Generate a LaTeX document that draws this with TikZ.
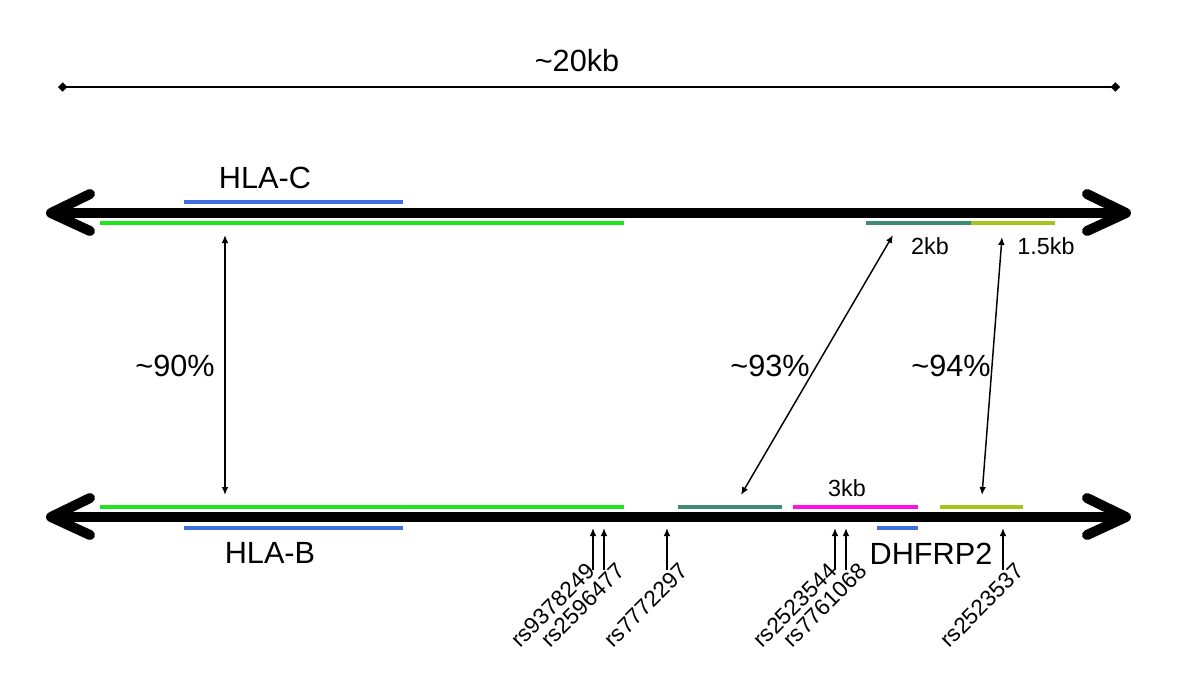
\documentclass[tikz,border=0pt]{standalone}
\usepackage{fontspec}
\setmainfont{Liberation Sans}
\usetikzlibrary{arrows.meta}

\definecolor{hlagreen}{HTML}{1EE61E}
\definecolor{geneblue}{HTML}{3D6FE3}
\definecolor{tealbar}{HTML}{3E8C76}
\definecolor{limebar}{HTML}{A6C41E}
\definecolor{magbar}{HTML}{FF10E6}

\tikzset{
  chrom/.style={line width=7.5pt, line cap=round, line join=round},
  seg/.style={line width=3.6pt},
  homol/.style={line width=1.1pt, {Latex[length=6pt,width=5pt]}-{Latex[length=6pt,width=5pt]}},
  snp/.style={line width=1.1pt, -{Latex[length=6pt,width=5pt]}},
  biglabel/.style={font=\fontsize{23}{27}\selectfont},
  smalllabel/.style={font=\fontsize{17.5}{21}\selectfont},
  snplabel/.style={font=\fontsize{17}{20}\selectfont, rotate=45, inner sep=1pt}
}

\begin{document}
\begin{tikzpicture}[x=0.75pt,y=-0.75pt]
  \useasboundingbox (0,0) rectangle (1200,679);

  % 1. scale bar
  \coordinate (S1) at (58,87);
  \coordinate (S2) at (1120,87);
  \draw[line width=1.5pt, {Turned Square[length=7pt,width=7pt]}-{Turned Square[length=7pt,width=7pt]}] (S1) -- (S2);
  \node[biglabel] (scale) at (577,61) {\textasciitilde20kb};

  % 2. the two chromosome lines
  \draw[line width=7.5pt] (54,213) -- (1122,213);
  \draw[chrom] (90,194) -- (51,213) -- (90,231);
  \draw[chrom] (1087,194) -- (1126,213) -- (1087,231);

  \draw[line width=7.5pt] (54,517) -- (1122,517);
  \draw[chrom] (90,498) -- (51,517) -- (90,535);
  \draw[chrom] (1087,498) -- (1126,517) -- (1087,535);

  % 3. segments on HLA-C side
  \draw[seg, geneblue] (184,202) -- (403,202);
  \draw[seg, hlagreen] (100,223) -- (624,223);
  \draw[seg, tealbar] (866,223) -- (971,223);
  \draw[seg, limebar] (971,223) -- (1055,223);
  \node[biglabel] (hlac) at (265,178) {HLA-C};
  \node[smalllabel] (kb2) at (930,246) {2kb};
  \node[smalllabel] (kb15) at (1046,246) {1.5kb};

  % 4. segments on HLA-B side
  \draw[seg, hlagreen] (100,507) -- (624,507);
  \draw[seg, geneblue] (184,528) -- (403,528);
  \draw[seg, tealbar] (678,507) -- (782,507);
  \draw[seg, magbar] (793,507) -- (918,507);
  \draw[seg, limebar] (940,507) -- (1023,507);
  \draw[seg, geneblue] (877,528) -- (918,528);
  \node[biglabel] (hlab) at (270,553) {HLA-B};
  \node[biglabel] (dhfrp) at (931,554) {DHFRP2};
  \node[smalllabel] (kb3) at (847,488) {3kb};

  % 5. homology arrows
  \coordinate (A1) at (225,235);
  \coordinate (A2) at (225,495);
  \coordinate (B1) at (893,235);
  \coordinate (B2) at (741,495);
  \coordinate (C1) at (1002,237);
  \coordinate (C2) at (982,495);
  \draw[homol] (A1) -- (A2);
  \draw[homol] (B1) -- (B2);
  \draw[homol] (C1) -- (C2);
  \node[biglabel] (p90) at (175,366) {\textasciitilde90\%};
  \node[biglabel] (p93) at (770,366) {\textasciitilde93\%};
  \node[biglabel] (p94) at (951,366) {\textasciitilde94\%};

  % 6. SNP positions (x, label shift, name)
  \foreach \x/\dx/\name in {593/40/rs9378249, 604/21/rs2596477, 667/21/rs7772297,
                            835/40/rs2523544, 846/21/rs7761068, 1003/21/rs2523537}{
    \coordinate (\name-lo) at (\x,570);
    \coordinate (\name-hi) at (\x,528);
    \draw[snp] (\name-lo) -- (\name-hi);
    \node[snplabel] (\name) at (\x-\dx,605) {\name};
  }
\end{tikzpicture}
\end{document}
